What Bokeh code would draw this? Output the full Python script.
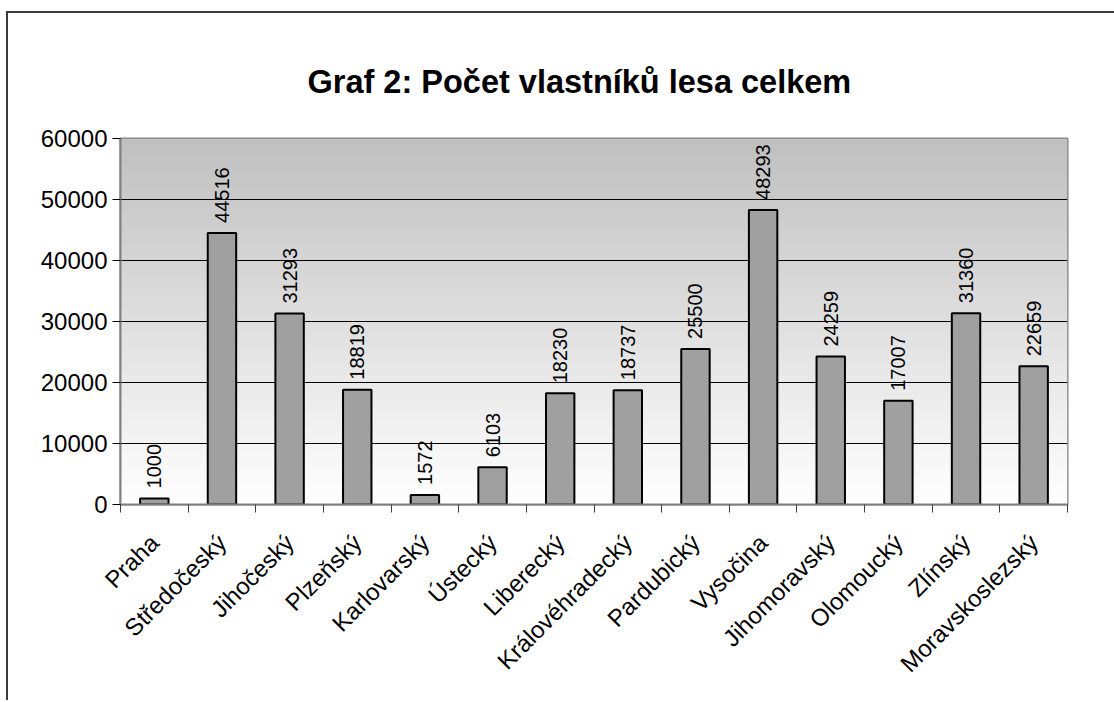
import numpy as np
from math import pi
from bokeh.plotting import figure
from bokeh.models import FixedTicker, Range1d
from bokeh.core.properties import value
from bokeh.embed import file_html
from bokeh.resources import INLINE

# ---- data -------------------------------------------------------------
regions = ["Praha", "Středočeský", "Jihočeský", "Plzeňský", "Karlovarský",
           "Ústecký", "Liberecký", "Královéhradecký", "Pardubický", "Vysočina",
           "Jihomoravský", "Olomoucký", "Zlínský", "Moravskoslezský"]
owners = [1000, 44516, 31293, 18819, 1572, 6103, 18230, 18737, 25500,
          48293, 24259, 17007, 31360, 22659]
y_ticks = [0, 10000, 20000, 30000, 40000, 50000, 60000]
title_text = "Graf 2: Počet vlastníků lesa celkem"

FONT = "Liberation Sans"
n = len(regions)
xs = list(range(1, n + 1))
bounds = [i + 0.5 for i in range(0, n + 1)]

p = figure(frame_width=947, frame_height=366,
           x_range=Range1d(0.5, n + 0.5), y_range=Range1d(0, y_ticks[-1]),
           output_backend="svg", toolbar_location=None,
           min_border_left=112, min_border_right=47,
           min_border_top=125, min_border_bottom=196,
           title=title_text)

p.styles = {"border-top": "2px solid #3c3c3c", "border-left": "2px solid #3c3c3c",
            "margin-top": "11px", "margin-left": "6px"}

# title
p.title.text_font = FONT
p.title.text_font_size = "32.5px"
p.title.text_font_style = "bold"
p.title.text_color = "black"
p.title.align = "left"
p.title.offset = 187
p.title.standoff = 77

# gradient background of the plot area
rows = 256
g = np.linspace(255, 192, rows).astype(np.uint32)
img = np.zeros((rows, 1), dtype=np.uint32)
view = img.view(dtype=np.uint8).reshape((rows, 1, 4))
view[:, 0, 0] = g
view[:, 0, 1] = g
view[:, 0, 2] = g
view[:, 0, 3] = 255
p.image_rgba(image=[img], x=0.5, y=0, dw=n, dh=y_ticks[-1], level="image")

p.background_fill_color = "white"
p.border_fill_color = "white"
p.outline_line_color = "#808080"
p.outline_line_width = 2

# bars
p.vbar(x=xs, top=owners, width=0.42, bottom=0,
       fill_color="#a0a0a0", line_color="black", line_width=2)

# value labels
p.text(x=xs, y=owners, text=[str(v) for v in owners], angle=pi / 2,
       text_align="left", text_baseline="middle", y_offset=-10,
       text_font=value(FONT), text_font_size="20px", text_color="black")

# grid
p.xgrid.grid_line_color = None
p.ygrid.ticker = FixedTicker(ticks=y_ticks)
p.ygrid.grid_line_color = "black"
p.ygrid.grid_line_width = 1

# y axis
p.yaxis.ticker = FixedTicker(ticks=y_ticks)
p.yaxis.axis_line_color = "#808080"
p.yaxis.axis_line_width = 2
p.yaxis.major_tick_in = 0
p.yaxis.major_tick_out = 8
p.yaxis.major_tick_line_color = "black"
p.yaxis.minor_tick_line_color = None
p.yaxis.major_label_text_font = FONT
p.yaxis.major_label_text_font_size = "24px"
p.yaxis.major_label_text_color = "black"
p.yaxis.major_label_standoff = 5

# x axis
p.xaxis.ticker = FixedTicker(ticks=xs, minor_ticks=bounds)
p.xaxis.major_label_overrides = {x: r for x, r in zip(xs, regions)}
p.xaxis.major_label_orientation = pi / 4
p.xaxis.axis_line_color = "#808080"
p.xaxis.axis_line_width = 2
p.xaxis.major_tick_in = 0
p.xaxis.major_tick_out = 0
p.xaxis.minor_tick_in = 0
p.xaxis.minor_tick_out = 8
p.xaxis.minor_tick_line_color = "#404040"
p.xaxis.major_label_text_font = FONT
p.xaxis.major_label_text_font_size = "24px"
p.xaxis.major_label_text_color = "black"
p.xaxis.major_label_standoff = 26

open("out.html", "w").write(file_html(p, INLINE))
